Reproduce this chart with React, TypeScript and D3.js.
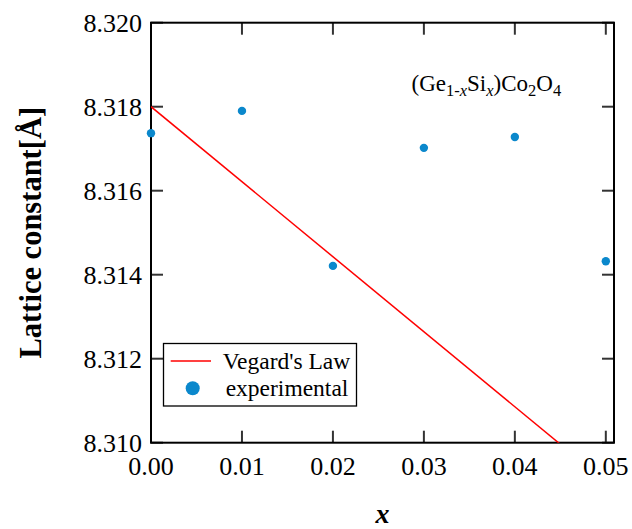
import React from "react";
import { scaleLinear, line } from "d3";

// Lattice constant vs Si content
const xTicks = [0, 0.01, 0.02, 0.03, 0.04, 0.05];
const yTicks = [8.31, 8.312, 8.314, 8.316, 8.318, 8.32];

const expX = [0, 0.01, 0.02, 0.03, 0.04, 0.05];
const expY = [8.31737, 8.3179, 8.31421, 8.31702, 8.31728, 8.31432];

const vegardX = [0, 0.05];
const vegardY = [8.318, 8.30907];

export default function App() {
  const width = 632;
  const height = 529;
  const plot = { left: 151, right: 614, top: 22.7, bottom: 442.7 };
  const font = "'Liberation Serif', 'Times New Roman', Times, serif";
  const dotColor = "#0B88CC";

  const x = scaleLinear().domain([0, 0.0509]).range([plot.left, plot.right]);
  const y = scaleLinear().domain([8.31, 8.32]).range([plot.bottom, plot.top]);

  const vegardPath = line<number>()
    .x((d, i) => x(vegardX[i]))
    .y((d) => y(d))(vegardY);

  const tickLen = 12;

  return (
    <svg
      width={width}
      height={height}
      style={{ position: "absolute", left: 0, top: 0, background: "#fff" }}
      fontFamily={font}
    >
      <defs>
        <clipPath id="plotclip">
          <rect
            x={plot.left}
            y={plot.top}
            width={plot.right - plot.left}
            height={plot.bottom - plot.top}
          />
        </clipPath>
      </defs>

      {/* ticks */}
      <g stroke="#333" strokeWidth={2}>
        {xTicks.map((t) => (
          <g key={"xt" + t}>
            <line x1={x(t)} x2={x(t)} y1={plot.bottom} y2={plot.bottom - tickLen} />
            <line x1={x(t)} x2={x(t)} y1={plot.top} y2={plot.top + tickLen} />
          </g>
        ))}
        {yTicks.map((t) => (
          <g key={"yt" + t}>
            <line x1={plot.left} x2={plot.left + tickLen} y1={y(t)} y2={y(t)} />
            <line x1={plot.right} x2={plot.right - tickLen} y1={y(t)} y2={y(t)} />
          </g>
        ))}
      </g>

      {/* frame */}
      <rect
        x={plot.left}
        y={plot.top}
        width={plot.right - plot.left}
        height={plot.bottom - plot.top}
        fill="none"
        stroke="#000"
        strokeWidth={2}
      />

      {/* tick labels */}
      <g fontSize={26} fill="#000">
        {xTicks.map((t) => (
          <text key={"xl" + t} x={x(t)} y={475} textAnchor="middle">
            {t.toFixed(2)}
          </text>
        ))}
        {yTicks.map((t) => (
          <text key={"yl" + t} x={plot.left - 9} y={y(t) + 9} textAnchor="end">
            {t.toFixed(3)}
          </text>
        ))}
      </g>

      {/* Vegard's law */}
      <path
        d={vegardPath ?? ""}
        fill="none"
        stroke="#FF0000"
        strokeWidth={1.5}
        clipPath="url(#plotclip)"
      />

      {/* experimental */}
      {expX.map((v, i) => (
        <circle key={"p" + i} cx={x(v)} cy={y(expY[i])} r={4.2} fill={dotColor} />
      ))}

      {/* annotation */}
      <text x={411.5} y={90.5} fontSize={23} fill="#000">
        <tspan>(Ge</tspan>
        <tspan fontSize={16.5} dy={5}>1-</tspan>
        <tspan fontSize={16.5} fontStyle="italic">x</tspan>
        <tspan dy={-5}>Si</tspan>
        <tspan fontSize={16.5} fontStyle="italic" dy={5}>x</tspan>
        <tspan dy={-5}>)Co</tspan>
        <tspan fontSize={16.5} dy={5}>2</tspan>
        <tspan dy={-5}>O</tspan>
        <tspan fontSize={16.5} dy={5}>4</tspan>
      </text>

      {/* legend */}
      <g>
        <rect x={163.5} y={343.5} width={193} height={62.5} fill="#fff" stroke="#000" strokeWidth={1.3} />
        <line x1={170.7} x2={211} y1={361} y2={361} stroke="#FF0000" strokeWidth={1.5} />
        <circle cx={192.7} cy={388.3} r={7} fill={dotColor} />
        <text x={222.7} y={368.5} fontSize={23.5} fill="#000">Vegard's Law</text>
        <text x={225.7} y={395.5} fontSize={23.5} fill="#000">experimental</text>
      </g>

      {/* axis titles */}
      <text
        x={(plot.left + plot.right) / 2}
        y={523}
        textAnchor="middle"
        fontSize={28}
        fontWeight="bold"
        fontStyle="italic"
        fill="#000"
      >
        x
      </text>
      <text
        transform={`translate(41,${(plot.top + plot.bottom) / 2}) rotate(-90)`}
        textAnchor="middle"
        fontSize={30.5}
        fontWeight="bold"
        fill="#000"
      >
        Lattice constant[Å]
      </text>
    </svg>
  );
}
